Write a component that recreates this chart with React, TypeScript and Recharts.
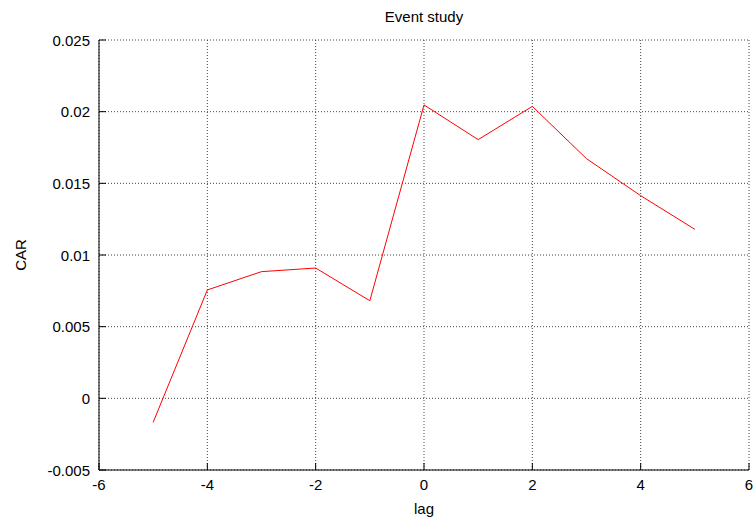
import { LineChart, Line, XAxis, YAxis, CartesianGrid } from 'recharts';

const lags = [-5, -4, -3, -2, -1, 0, 1, 2, 3, 4, 5];
const car = [-0.00167, 0.00756, 0.00884, 0.00909, 0.00681, 0.02047, 0.01805, 0.02037, 0.01672, 0.01414, 0.01179];

const xTicks = [-6, -4, -2, 0, 2, 4, 6];
const yTicks = [-0.005, 0, 0.005, 0.01, 0.015, 0.02, 0.025];

const data = lags.map((lag, i) => ({ lag, car: car[i] }));

const FONT = '"Liberation Sans", Arial, sans-serif';

// gnuplot-style: label outside, short tick mark pointing into the plot
function YTick({ x, y, payload }: any) {
  return (
    <g>
      <line x1={x + 9} x2={x + 16} y1={y} y2={y} stroke="#000" />
      <text x={x} y={y} textAnchor="end" dominantBaseline="central" fontSize={15} fontFamily={FONT} fill="#000">
        {payload.value}
      </text>
    </g>
  );
}

function XTick({ x, y, payload }: any) {
  return (
    <g>
      <line x1={x} x2={x} y1={y - 9} y2={y - 16} stroke="#000" />
      <text x={x} y={y} dy="0.71em" textAnchor="middle" fontSize={15} fontFamily={FONT} fill="#000">
        {payload.value}
      </text>
    </g>
  );
}

export default function App() {
  return (
    <div style={{ position: 'absolute', left: 0, top: 0, width: 756, height: 518, background: '#fff', fontFamily: FONT }}>
      <div style={{ position: 'absolute', top: 8, left: 99, width: 650, textAlign: 'center', fontSize: 15, color: '#000' }}>
        Event study
      </div>
      <LineChart width={756} height={518} data={data} margin={{ top: 40, right: 7, bottom: 0, left: 0 }}>
        <CartesianGrid stroke="#444" strokeDasharray="1 2" />
        <XAxis
          dataKey="lag"
          type="number"
          domain={[-6, 6]}
          ticks={xTicks}
          height={48}
          tickSize={0}
          tickMargin={9}
          tick={<XTick />}
          axisLine={{ stroke: '#000' }}
          tickLine={false}
          label={{ value: 'lag', position: 'insideBottom', offset: 4, fontSize: 15, fontFamily: FONT, fill: '#000' }}
        />
        <YAxis
          type="number"
          domain={[-0.005, 0.025]}
          ticks={yTicks}
          width={99}
          tickSize={0}
          tickMargin={9}
          tick={<YTick />}
          axisLine={{ stroke: '#000' }}
          tickLine={false}
          label={{
            content: ({ viewBox }: any) => {
              const cx = viewBox.x + 20;
              const cy = viewBox.y + viewBox.height / 2;
              return (
                <text x={cx} y={cy} transform={`rotate(-90 ${cx} ${cy})`} textAnchor="middle" dominantBaseline="central" fontSize={15} fontFamily={FONT} fill="#000">
                  CAR
                </text>
              );
            },
          }}
        />
        <Line type="linear" dataKey="car" stroke="#ff0000" strokeWidth={1} dot={false} isAnimationActive={false} />
      </LineChart>
    </div>
  );
}
